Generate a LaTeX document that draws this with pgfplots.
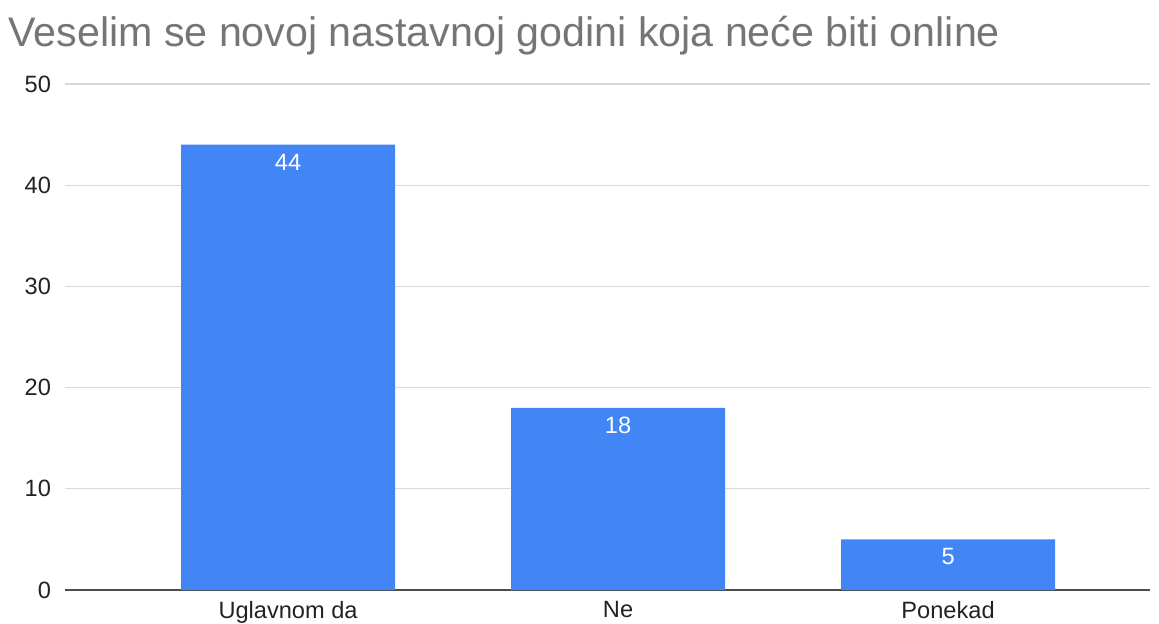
\documentclass[border=0pt]{standalone}
\usepackage{pgfplots}
\pgfplotsset{compat=1.18}
\usepackage{fontspec}
\setmainfont{Liberation Sans}
\definecolor{gblue}{HTML}{4285F4}
\definecolor{gtitle}{HTML}{757575}
\definecolor{ggrid}{HTML}{D9D9D9}
\definecolor{gtext}{HTML}{222222}
\begin{document}
\begin{tikzpicture}
\useasboundingbox (0,0) rectangle (579.5pt,311.5pt);
\node[anchor=base west, inner sep=0pt, text=gtitle, font=\fontsize{20.6}{24}\selectfont] at (4pt,288.5pt) {Veselim se novoj nastavnoj godini koja neće biti online};
\begin{axis}[
  at={(32.5pt,16.5pt)}, anchor=south west,
  scale only axis, width=542.5pt, height=253pt,
  ybar, bar width=107pt,
  xmin=-0.676, xmax=2.612, ymin=0, ymax=50,
  xtick=data, xticklabels={Uglavnom da, Ne, Ponekad},
  ytick={10,20,30,40,50},
  extra y ticks={0}, extra y tick style={grid style={color=gtext!80, line width=0.6pt}},
  ymajorgrids, grid style={color=ggrid, line width=0.6pt},
  axis line style={draw=none},
  major tick length=0pt,
  tick label style={font=\fontsize{11.8}{14}\selectfont, text=gtext},
  yticklabel style={xshift=-3.5pt},
  xticklabel style={yshift=-2pt},
  /pgf/number format/assume math mode=true,
  nodes near coords,
  nodes near coords style={font=\fontsize{11.8}{14}\selectfont, text=white, anchor=north, yshift=-1pt},
  clip=false,
]
\addplot[fill=gblue, draw=none] coordinates {(0,44) (1,18) (2,5)};
\end{axis}
\end{tikzpicture}
\end{document}
